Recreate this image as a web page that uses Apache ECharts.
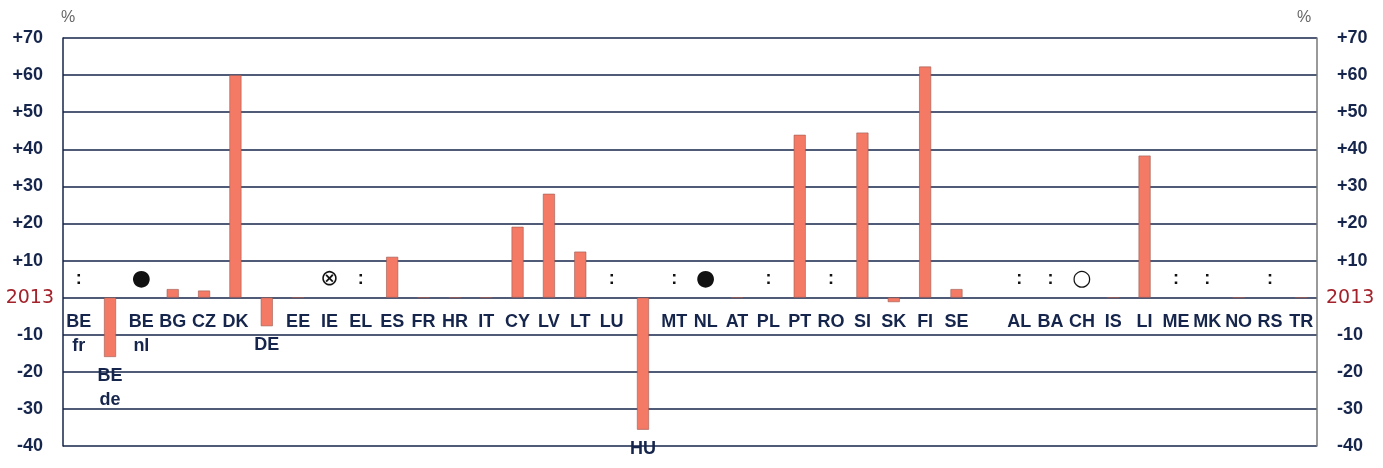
<!DOCTYPE html>
<html>
<head>
<meta charset="utf-8">
<script src="https://cdn.jsdelivr.net/npm/echarts@6/dist/echarts.min.js"></script>
<style>
html,body{margin:0;padding:0;background:#fff;}
#c{width:1383px;height:468px;}
</style>
</head>
<body>
<div id="c"></div>
<script>
// Category labels (one empty slot separates EU from non-EU countries)
const categories = ['BE\nfr','BE\nde','BE\nnl','BG','CZ','DK','DE','EE','IE','EL','ES','FR','HR','IT','CY','LV','LT','LU','HU','MT','NL','AT','PL','PT','RO','SI','SK','FI','SE','','AL','BA','CH','IS','LI','ME','MK','NO','RS','TR'];
// Change in % (null = not available / no bar)
const values = [null,-16,null,2.3,1.9,60,-7.7,0,null,null,11,0,0,0,19.1,28,12.4,null,-35.6,null,null,0,null,43.9,null,44.5,-1.2,62.3,2.3,null,null,null,null,0,38.3,null,null,0,null,0];
// Flag symbols shown instead of a bar
const flags = [':','','\u25CF','','','','','','\u2297',':','','','','','','','',':','',':','\u25CF','',':','',':','','','','','',':',':','\u25CB','','',':',':','',':',''];
// Y axis ticks
const yMin = -40, yMax = 70, yStep = 10;
const baseYearLabel = '2013';

const navy = '#16254B';
const flagLevel = 5;
const FONT = 'Liberation Sans, Arial, sans-serif';

const chart = echarts.init(document.getElementById('c'), null, {renderer:'canvas'});

const axisLabelCommon = {
  formatter: v => v === 0 ? '' : (v > 0 ? '+' : '') + v,
  color: navy,
  fontFamily: FONT,
  fontWeight: 'bold',
  fontSize: 18,
  margin: 20
};
const zeroLabel = {
  formatter: v => v === 0 ? baseYearLabel : '',
  color: '#A3222B',
  fontFamily: 'DejaVu Sans, Verdana, sans-serif',
  fontWeight: 'normal',
  fontSize: 19,
  margin: 9
};

const labelData = values.map((v, i) => {
  const below = v !== null && v < -3;
  return { value: below ? v : 0, label: { distance: below ? 7 : 12 } };
});

const flagData = flags.map(f => {
  if (!f) return null;
  const isColon = f === ':';
  return {
    value: flagLevel,
    label: {
      fontSize: isColon ? 18 : 22,
      fontFamily: isColon ? FONT : 'DejaVu Sans, sans-serif',
      fontWeight: isColon ? 'bold' : 'normal'
    }
  };
});

const yBase = { type: 'value', min: yMin, max: yMax, interval: yStep, axisTick: { show: false } };

chart.setOption({
  animation: false,
  grid: { left: 63, right: 66, top: 38, bottom: 22, containLabel: false, outerBoundsMode: 'none' },
  xAxis: {
    type: 'category',
    data: categories,
    axisLine: { show: false },
    axisTick: { show: false },
    axisLabel: { show: false },
    splitLine: { show: false }
  },
  yAxis: [
    Object.assign({}, yBase, {
      position: 'left', offset: 0,
      name: '%', nameGap: 12,
      nameTextStyle: { color: '#666', fontSize: 16, fontFamily: FONT, padding: [0, 0, 0, 10] },
      axisLine: { show: true, lineStyle: { color: navy, width: 1.5 } },
      axisLabel: axisLabelCommon,
      splitLine: { show: true, lineStyle: { color: navy, width: 1.5 } }
    }),
    Object.assign({}, yBase, {
      position: 'right', offset: 0,
      name: '%', nameGap: 12,
      nameTextStyle: { color: '#666', fontSize: 16, fontFamily: FONT, padding: [0, 26, 0, 0] },
      axisLine: { show: true, lineStyle: { color: '#777', width: 1.5 } },
      axisLabel: axisLabelCommon,
      splitLine: { show: false }
    }),
    Object.assign({}, yBase, {
      position: 'left', offset: 0,
      axisLine: { show: false },
      axisLabel: zeroLabel,
      splitLine: { show: false }
    }),
    Object.assign({}, yBase, {
      position: 'right', offset: 0,
      axisLine: { show: false },
      axisLabel: zeroLabel,
      splitLine: { show: false }
    })
  ],
  series: [
    {
      type: 'bar',
      data: values,
      barWidth: 12,
      itemStyle: { color: '#F47A66', borderColor: '#9a5a50', borderWidth: 0.6 },
      z: 3
    },
    {
      type: 'scatter',
      data: labelData,
      symbolSize: 0,
      itemStyle: { color: 'rgba(0,0,0,0)', opacity: 1 },
      silent: true,
      z: 4,
      label: {
        show: true,
        position: 'bottom',
        formatter: p => categories[p.dataIndex],
        color: navy,
        opacity: 1,
        fontFamily: FONT,
        fontWeight: 'bold',
        fontSize: 18,
        lineHeight: 24,
        align: 'center'
      }
    },
    {
      type: 'scatter',
      data: flagData,
      symbolSize: 0,
      itemStyle: { color: 'rgba(0,0,0,0)', opacity: 1 },
      silent: true,
      z: 4,
      label: {
        show: true,
        position: 'inside',
        formatter: p => flags[p.dataIndex],
        color: '#111',
        opacity: 1
      }
    }
  ]
});
</script>
</body>
</html>
